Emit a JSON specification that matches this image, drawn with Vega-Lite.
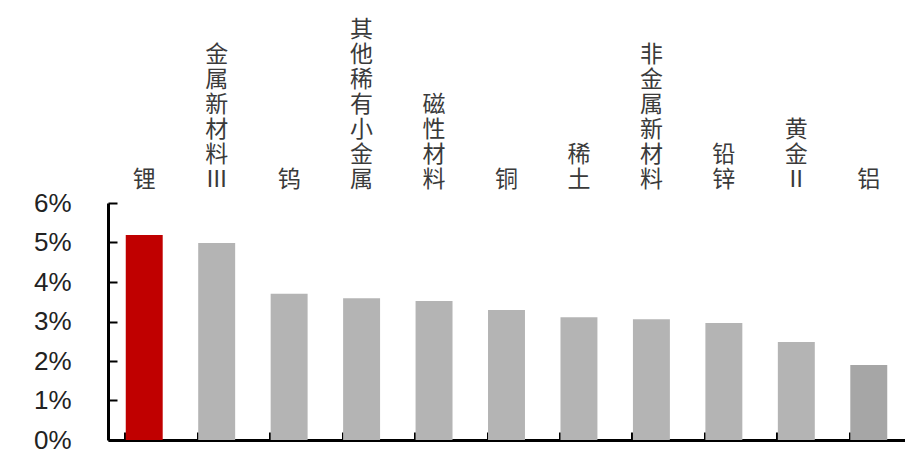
{
  "$schema": "https://vega.github.io/schema/vega-lite/v6.json",
  "autosize": "none",
  "width": 797,
  "height": 237,
  "padding": {"left": 108, "top": 203, "right": 0, "bottom": 10},
  "background": "white",
  "config": {"view": {"stroke": null}},
  "data": {"values": [
    {"name": "锂", "value": 0.0519},
    {"name": "金属新材料Ⅲ", "value": 0.0499},
    {"name": "钨", "value": 0.0370},
    {"name": "其他稀有小金属", "value": 0.0359},
    {"name": "磁性材料", "value": 0.0352},
    {"name": "铜", "value": 0.0329},
    {"name": "稀土", "value": 0.0311},
    {"name": "非金属新材料", "value": 0.0306},
    {"name": "铅锌", "value": 0.0296},
    {"name": "黄金Ⅱ", "value": 0.0248},
    {"name": "铝", "value": 0.0190}
  ]},
  "encoding": {
    "y": {"field": "value", "type": "quantitative",
      "scale": {"domain": [0, 0.06], "nice": false},
      "axis": {"title": null, "format": ".0%", "values": [0, 0.01, 0.02, 0.03, 0.04, 0.05, 0.06], "grid": false,
        "labelOverlap": false, "tickCount": 7,
        "domainColor": "#000", "domainWidth": 3, "tickColor": "#000", "tickWidth": 2, "tickSize": -9,
        "labelFont": "Liberation Sans", "labelFontSize": 26, "labelColor": "#222", "labelPadding": 46}}
  },
  "resolve": {"axis": {"x": "independent"}},
  "layer": [
    {
      "mark": {"type": "bar"},
      "encoding": {
        "x": {"field": "name", "type": "nominal", "sort": null,
          "scale": {"paddingInner": 0.49, "paddingOuter": 0.245},
          "axis": {"orient": "bottom", "title": null, "labels": false, "bandPosition": 0,
            "domainColor": "#000", "domainWidth": 3, "tickColor": "#000", "tickWidth": 3, "tickSize": -8}},
        "color": {
          "condition": [
            {"test": "datum.name === '锂'", "value": "#c00000"},
            {"test": "datum.name === '铝'", "value": "#a6a6a6"}
          ],
          "value": "#b4b4b4"
        }
      }
    },
    {
      "mark": {"type": "bar", "opacity": 0},
      "encoding": {
        "x": {"field": "name", "type": "nominal", "sort": null,
          "axis": {"orient": "top", "title": null, "domain": false, "ticks": false, "labelAngle": 0,
            "labelExpr": "reverse(split(datum.label, ''))", "labelFont": "Noto Sans CJK SC", "labelFontSize": 23,
            "labelLineHeight": -25, "labelColor": "#3a3a3a", "labelPadding": 12, "labelBaseline": "bottom", "labelOverlap": false, "labelLimit": 0}}
      }
    }
  ]
}
